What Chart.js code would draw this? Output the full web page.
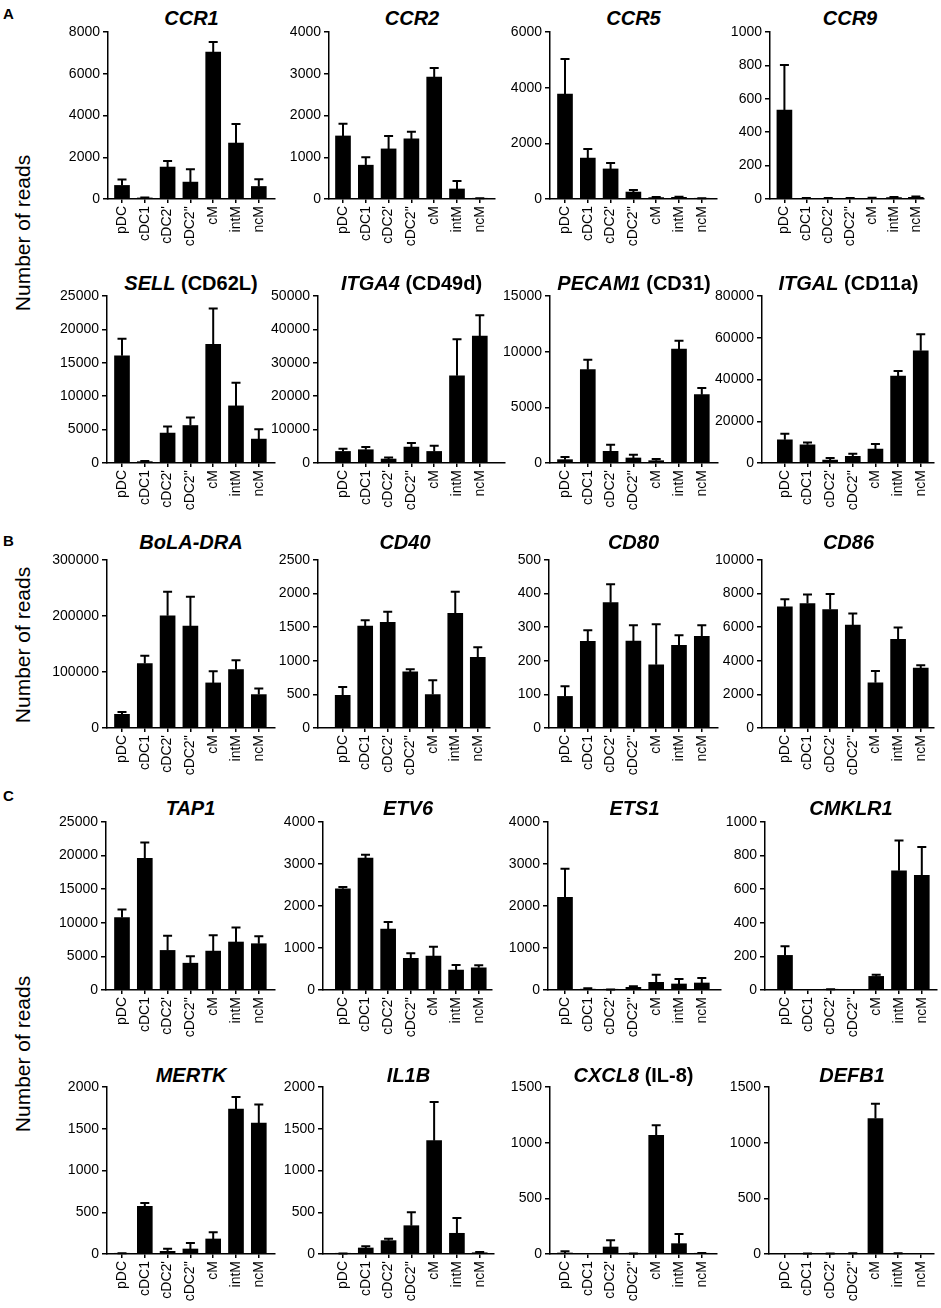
<!DOCTYPE html>
<html>
<head>
<meta charset="utf-8">
<script src="https://cdn.jsdelivr.net/npm/chart.js@4.4.1/dist/chart.umd.min.js"></script>
<style>
  body { margin: 0; background: #fff; }
  #fig { position: relative; width: 941px; height: 1308px; overflow: hidden;
         font-family: Arial, "Liberation Sans", Helvetica, sans-serif; color: #000; }
  .panel { position: absolute; font-weight: bold; font-size: 15px; line-height: 15px; }
  .ylab { position: absolute; font-size: 21px; white-space: nowrap;
          transform: translate(-50%, -50%) rotate(-90deg); }
  .title { position: absolute; font-size: 20px; font-weight: bold; line-height: 20px;
           white-space: nowrap; transform: translateX(-50%); }
  canvas { position: absolute; }
</style>
</head>
<body>
<div id="fig">
  <div class="panel" style="left:3px;top:6px;">A</div>
  <div class="panel" style="left:3px;top:533px;">B</div>
  <div class="panel" style="left:3px;top:788px;">C</div>
  <div class="ylab" style="left:23px;top:233px;">Number of reads</div>
  <div class="ylab" style="left:23px;top:645px;">Number of reads</div>
  <div class="ylab" style="left:23px;top:1054px;">Number of reads</div>
</div>
<script>
const FONT = 'Arial, "Liberation Sans", Helvetica, sans-serif';

// cell populations on the x axis
const categories = ['pDC', 'cDC1', "cDC2'", "cDC2''", 'cM', 'intM', 'ncM'];

// panel titles (gene, protein in brackets)
const geneNames = ['CCR1', 'CCR2', 'CCR5', 'CCR9',
                   'SELL', 'ITGA4', 'PECAM1', 'ITGAL',
                   'BoLA-DRA', 'CD40', 'CD80', 'CD86',
                   'TAP1', 'ETV6', 'ETS1', 'CMKLR1',
                   'MERTK', 'IL1B', 'CXCL8', 'DEFB1'];
const proteinNames = ['', '', '', '',
                      'CD62L', 'CD49d', 'CD31', 'CD11a',
                      '', '', '', '',
                      '', '', '', '',
                      '', '', 'IL-8', ''];

// y axis range and tick step per panel
const yMax  = [8000, 4000, 6000, 1000, 25000, 50000, 15000, 80000, 300000, 2500, 500, 10000,
               25000, 4000, 4000, 1000, 2000, 2000, 1500, 1500];
const yStep = [2000, 1000, 2000, 200, 5000, 10000, 5000, 20000, 100000, 500, 100, 2000,
               5000, 1000, 1000, 200, 500, 500, 500, 500];

// mean number of reads and SEM (upper error bar)
const ccr1Mean = [650, 50, 1530, 810, 7040, 2680, 600];
const ccr1Sem  = [280, 20, 290, 620, 480, 910, 350];
const ccr2Mean = [1510, 810, 1200, 1440, 2920, 240, 10];
const ccr2Sem  = [290, 190, 310, 170, 220, 190, 10];
const ccr5Mean = [3770, 1470, 1080, 250, 50, 60, 20];
const ccr5Sem  = [1260, 330, 210, 70, 20, 20, 10];
const ccr9Mean = [533, 3, 3, 3, 4, 8, 10];
const ccr9Sem  = [270, 3, 3, 3, 3, 4, 5];
const sellMean = [16050, 200, 4480, 5610, 17750, 8550, 3580];
const sellSem  = [2540, 100, 980, 1190, 5370, 3470, 1490];
const itga4Mean = [3460, 3970, 1190, 4770, 3460, 26130, 37980];
const itga4Sem  = [810, 800, 480, 1200, 1700, 10950, 6260];
const pecam1Mean = [300, 8380, 1050, 450, 210, 10240, 6140];
const pecam1Sem  = [240, 900, 600, 300, 150, 750, 600];
const itgalMean = [11130, 8750, 1430, 3180, 6680, 41670, 53760];
const itgalSem  = [2860, 1110, 960, 1270, 2390, 2390, 7950];
const bolaMean = [24450, 115110, 200400, 181910, 80520, 104370, 59640];
const bolaSem  = [4180, 13720, 42940, 52490, 20870, 16700, 10740];
const cd40Mean = [487, 1516, 1571, 835, 497, 1705, 1050];
const cd40Sem  = [124, 89, 159, 40, 214, 323, 150];
const cd80Mean = [94, 258, 373, 259, 188, 246, 273];
const cd80Sem  = [30, 33, 55, 47, 121, 30, 33];
const cd86Mean = [7210, 7410, 7050, 6120, 2690, 5280, 3570];
const cd86Sem  = [460, 540, 920, 700, 700, 700, 160];
const tap1Mean = [10780, 19610, 5890, 3990, 5790, 7140, 6890];
const tap1Sem  = [1200, 2350, 2200, 1050, 2350, 2150, 1100];
const etv6Mean = [2410, 3140, 1450, 755, 810, 477, 530];
const etv6Sem  = [40, 80, 170, 120, 220, 120, 60];
const ets1Mean = [2206, 20, 5, 63, 183, 143, 167];
const ets1Sem  = [680, 20, 5, 24, 180, 120, 120];
const cmklr1Mean = [206, 0, 2, 0, 81, 710, 683];
const cmklr1Sem  = [54, 0, 2, 0, 10, 180, 168];
const mertkMean = [3, 571, 32, 60, 180, 1737, 1569];
const mertkSem  = [5, 40, 32, 72, 80, 143, 220];
const il1bMean = [3, 72, 160, 339, 1357, 248, 15];
const il1bSem  = [2, 20, 24, 160, 463, 183, 10];
const cxcl8Mean = [9, 0, 63, 3, 1066, 93, 3];
const cxcl8Sem  = [15, 0, 60, 2, 90, 87, 5];
const defb1Mean = [0, 2, 2, 3, 1216, 3, 0];
const defb1Sem  = [0, 2, 2, 3, 134, 3, 0];

const means = [ccr1Mean, ccr2Mean, ccr5Mean, ccr9Mean, sellMean, itga4Mean, pecam1Mean, itgalMean,
               bolaMean, cd40Mean, cd80Mean, cd86Mean, tap1Mean, etv6Mean, ets1Mean, cmklr1Mean,
               mertkMean, il1bMean, cxcl8Mean, defb1Mean];
const sems = [ccr1Sem, ccr2Sem, ccr5Sem, ccr9Sem, sellSem, itga4Sem, pecam1Sem, itgalSem,
              bolaSem, cd40Sem, cd80Sem, cd86Sem, tap1Sem, etv6Sem, ets1Sem, cmklr1Sem,
              mertkSem, il1bSem, cxcl8Sem, defb1Sem];

// page layout (pixels)
const rowTop = [32, 296, 560, 822, 1087];
const rowBottom = [199, 463, 728, 990, 1254];
const titleY = [18, 283, 542, 808, 1075];
const axisLeft = [[108, 329, 550, 770], [107, 318, 550, 762], [107, 318, 549, 762],
                  [106, 323, 548, 765], [107, 323, 550, 769]];
const axisRight = [[275, 495, 717, 930], [275, 505, 718, 935], [275, 492, 718, 935],
                   [275, 493, 721, 937], [275, 494, 717, 935]];
const firstBarX = [122, 343, 565, 785];
const barStep = 22.8;
const Y_W = 62, X_H = 66, PAD_T = 12, PAD_R = 6;

// draws the upper SEM whisker above each bar
const errorBars = {
  id: 'errorBars',
  afterDatasetsDraw(chart) {
    const ds = chart.data.datasets[0];
    const meta = chart.getDatasetMeta(0);
    const yScale = chart.scales.y;
    const ctx = chart.ctx;
    ctx.save();
    ctx.strokeStyle = '#000';
    ctx.lineWidth = 2;
    meta.data.forEach((bar, i) => {
      const err = ds.sem[i];
      if (!err) return;
      const v = ds.data[i].y;
      const y0 = yScale.getPixelForValue(v);
      const y1 = yScale.getPixelForValue(v + err);
      ctx.beginPath();
      ctx.moveTo(bar.x, y0);
      ctx.lineTo(bar.x, y1);
      ctx.moveTo(bar.x - 4.5, y1);
      ctx.lineTo(bar.x + 4.5, y1);
      ctx.stroke();
    });
    ctx.restore();
  }
};

function axisStyle() {
  return {
    grid: { display: true, drawOnChartArea: false, drawTicks: true, offset: false,
            tickLength: 5, color: '#000', lineWidth: 1.5 },
    border: { display: true, color: '#000', width: 1.5 }
  };
}

const fig = document.getElementById('fig');

geneNames.forEach((gene, k) => {
  const r = Math.floor(k / 4), c = k % 4;
  const left = axisLeft[r][c], right = axisRight[r][c];
  const top = rowTop[r], bottom = rowBottom[r];

  // title
  const t = document.createElement('div');
  t.className = 'title';
  t.style.left = ((left + right) / 2) + 'px';
  t.style.top = (titleY[r] - 10) + 'px';
  t.innerHTML = '<i>' + gene + '</i>' + (proteinNames[k] ? ' (' + proteinNames[k] + ')' : '');
  fig.appendChild(t);

  // chart canvas
  const cv = document.createElement('canvas');
  const w = right - left + Y_W + PAD_R;
  const h = bottom - top + PAD_T + X_H;
  cv.width = w; cv.height = h;
  cv.style.width = w + 'px'; cv.style.height = h + 'px';
  cv.style.left = (left - Y_W) + 'px';
  cv.style.top = (top - PAD_T) + 'px';
  fig.appendChild(cv);

  const xs = axisStyle(), ys = axisStyle();
  xs.grid.tickLength = 4;

  new Chart(cv, {
    type: 'bar',
    data: {
      datasets: [{
        data: means[k].map((v, i) => ({ x: i, y: v })),
        sem: sems[k],
        backgroundColor: '#000',
        borderWidth: 0,
        barThickness: 15
      }]
    },
    options: {
      responsive: false,
      animation: false,
      devicePixelRatio: 1,
      layout: { padding: { top: PAD_T, right: PAD_R, left: 0, bottom: 0 } },
      plugins: { legend: { display: false }, tooltip: { enabled: false } },
      scales: {
        x: {
          type: 'linear',
          offset: false,
          min: (left - firstBarX[c]) / barStep,
          max: (right - firstBarX[c]) / barStep,
          afterBuildTicks: s => { s.ticks = categories.map((name, i) => ({ value: i })); },
          afterFit: s => { s.height = X_H; },
          grid: xs.grid,
          border: xs.border,
          ticks: {
            autoSkip: false, minRotation: 90, maxRotation: 90, padding: 3,
            color: '#000', font: { size: 14, family: FONT },
            callback: v => categories[v]
          }
        },
        y: {
          min: 0,
          max: yMax[k],
          afterFit: s => { s.width = Y_W; },
          grid: ys.grid,
          border: ys.border,
          ticks: {
            stepSize: yStep[k], padding: 3,
            color: '#000', font: { size: 14, family: FONT },
            callback: v => String(v)
          }
        }
      }
    },
    plugins: [errorBars]
  });
});
</script>
</body>
</html>
